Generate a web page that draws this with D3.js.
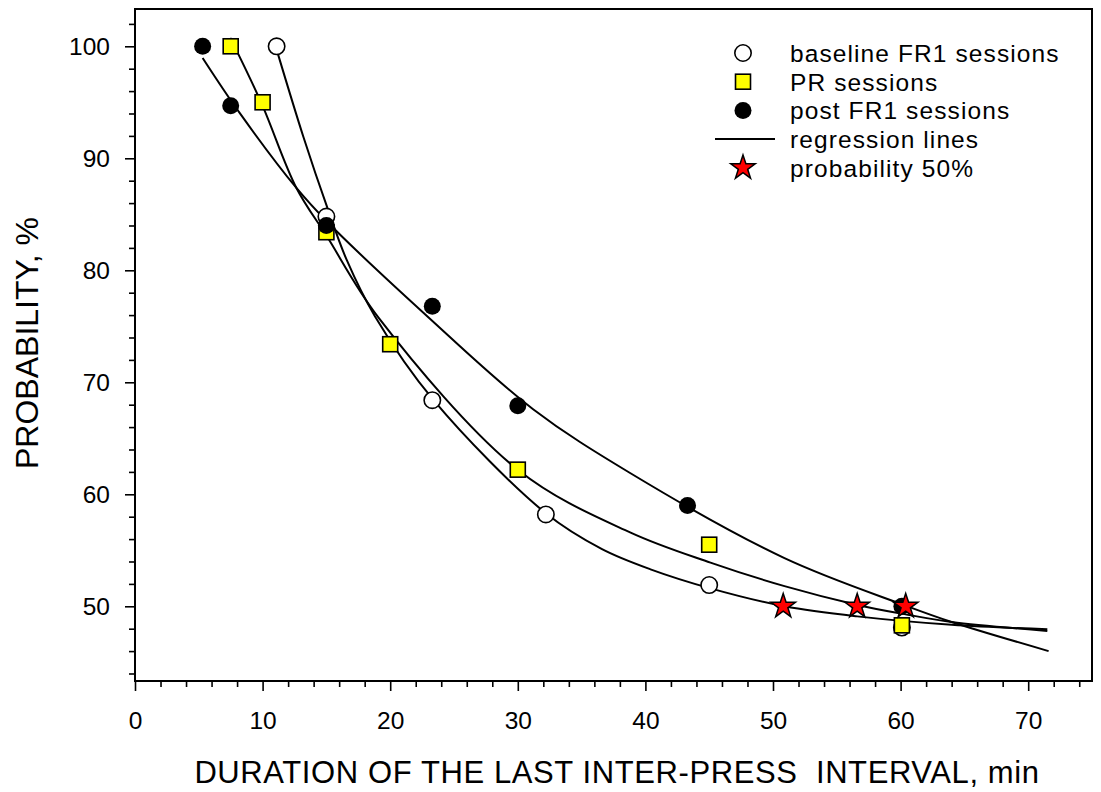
<!DOCTYPE html>
<html>
<head>
<meta charset="utf-8">
<script src="https://cdn.jsdelivr.net/npm/d3@7"></script>
<style>
  body { margin: 0; background: #fff; }
  text { font-family: "Liberation Sans", Arial, sans-serif; fill: #000; }
</style>
</head>
<body>
<div id="chart"></div>
<script>
// measured points
const baselineX = [11.1, 15, 23.3, 32.2, 45, 60.1];
const baselineY = [100, 84.8, 68.4, 58.2, 51.9, 48.1];
const prX = [7.5, 10, 15, 20, 30, 45, 60.1];
const prY = [100, 95, 83.4, 73.4, 62.2, 55.5, 48.3];
const postX = [5.3, 7.5, 15, 23.3, 30, 43.3, 60.1];
const postY = [100, 94.7, 84, 76.8, 67.9, 59.0, 50.0];
const starX = [50.8, 56.6, 60.4];
const starY = [50, 50, 50];

// regression lines
const baseFitX = [11.1, 13.2, 15.1, 16.6, 18.8, 23.4, 32.2, 36.6, 40.4, 45.1, 50.9, 56.6, 64.0, 71.5];
const baseFitY = [99.7, 91.9, 85.5, 80.9, 75.9, 68.4, 58.3, 55.1, 53.3, 51.6, 50.0, 49.1, 48.35, 47.95];
const prFitX = [7.47, 9.9, 12.65, 15.0, 19.1, 30.1, 38.8, 45.1, 50.9, 56.7, 60.3, 64.0, 71.5];
const prFitY = [100.75, 94.95, 87.35, 83.1, 75.75, 62.1, 56.6, 53.9, 51.8, 50.1, 49.3, 48.6, 47.8];
const postFitX = [5.3, 8.2, 12.65, 15.0, 22.9, 31.2, 38.8, 50.9, 60.3, 64.0, 71.6];
const postFitY = [98.96, 94.05, 87.35, 84.4, 75.9, 67.6, 61.9, 54.3, 50.1, 48.6, 46.0];

const xMajor = [0, 10, 20, 30, 40, 50, 60, 70];
const xMinor = [2, 4, 6, 8, 12, 14, 16, 18, 22, 24, 26, 28, 32, 34, 36, 38, 42, 44, 46, 48, 52, 54, 56, 58, 62, 64, 66, 68, 72, 74];
const yMajor = [50, 60, 70, 80, 90, 100];
const yMinor = [44, 46, 48, 52, 54, 56, 58, 62, 64, 66, 68, 72, 74, 76, 78, 82, 84, 86, 88, 92, 94, 96, 98, 102];

const legendLabels = ["baseline FR1 sessions", "PR sessions", "post FR1 sessions", "regression lines", "probability 50%"];

const width = 1101, height = 792;
const margin = { top: 9, right: 9, bottom: 111, left: 135 };
const w = width - margin.left - margin.right,
      h = height - margin.top - margin.bottom;

const svg = d3.select("#chart").append("svg")
  .attr("width", width)
  .attr("height", height);

const g = svg.append("g")
  .attr("transform", "translate(" + margin.left + "," + margin.top + ")");

const x = d3.scaleLinear().domain([0, 75]).range([0, w]);
const y = d3.scaleLinear().domain([43.33, 103.33]).range([h, 0]);

// axes: major + minor ticks
const xAxis = g.append("g")
  .attr("transform", "translate(0," + h + ")")
  .call(d3.axisBottom(x).tickValues(xMajor).tickSize(10).tickPadding(21).tickFormat(d3.format("d")));
const xAxisMinor = g.append("g")
  .attr("transform", "translate(0," + h + ")")
  .call(d3.axisBottom(x).tickValues(xMinor).tickSize(6).tickFormat(""));
const yAxis = g.append("g")
  .call(d3.axisLeft(y).tickValues(yMajor).tickSize(10).tickPadding(15).tickFormat(d3.format("d")));
const yAxisMinor = g.append("g")
  .call(d3.axisLeft(y).tickValues(yMinor).tickSize(6).tickFormat(""));

[xAxis, xAxisMinor, yAxis, yAxisMinor].forEach(function(a) {
  a.select(".domain").remove();
  a.selectAll("line").attr("stroke", "#000").attr("stroke-width", 1.6);
  a.selectAll("text")
    .style("font-size", "24.5px")
    .style("font-family", "'Liberation Sans', Arial, sans-serif")
    .attr("fill", "#000");
});

// frame
g.append("rect")
  .attr("width", w)
  .attr("height", h)
  .attr("fill", "none")
  .attr("stroke", "#000")
  .attr("stroke-width", 2);

// regression lines
const line = d3.line()
  .x(d => x(d[0]))
  .y(d => y(d[1]))
  .curve(d3.curveCatmullRom.alpha(0.5));

[[baseFitX, baseFitY], [prFitX, prFitY], [postFitX, postFitY]].forEach(function(s) {
  g.append("path")
    .datum(d3.zip(s[0], s[1]))
    .attr("d", line)
    .attr("fill", "none")
    .attr("stroke", "#000")
    .attr("stroke-width", 2);
});

// markers
g.selectAll(".base").data(d3.zip(baselineX, baselineY)).enter()
  .append("circle")
  .attr("class", "base")
  .attr("cx", d => x(d[0]))
  .attr("cy", d => y(d[1]))
  .attr("r", 8.2)
  .attr("fill", "#fff")
  .attr("stroke", "#000")
  .attr("stroke-width", 1.6);

g.selectAll(".pr").data(d3.zip(prX, prY)).enter()
  .append("rect")
  .attr("class", "pr")
  .attr("x", d => x(d[0]) - 7.5)
  .attr("y", d => y(d[1]) - 7.5)
  .attr("width", 15)
  .attr("height", 15)
  .attr("fill", "#ffff00")
  .attr("stroke", "#000")
  .attr("stroke-width", 1.6);

g.selectAll(".post").data(d3.zip(postX, postY)).enter()
  .append("circle")
  .attr("class", "post")
  .attr("cx", d => x(d[0]))
  .attr("cy", d => y(d[1]))
  .attr("r", 8.5)
  .attr("fill", "#000");

const star = d3.symbol().type(d3.symbolStar).size(185);
g.selectAll(".star").data(d3.zip(starX, starY)).enter()
  .append("path")
  .attr("class", "star")
  .attr("d", star)
  .attr("transform", d => "translate(" + x(d[0]) + "," + y(d[1]) + ")")
  .attr("fill", "#ff0000")
  .attr("stroke", "#000")
  .attr("stroke-width", 1.5);

// legend
const legend = svg.append("g").attr("id", "legend");
const rowY = i => 53 + i * 28.7;
const symX = 743;

legend.append("circle").attr("cx", symX).attr("cy", rowY(0)).attr("r", 8.2)
  .attr("fill", "#fff").attr("stroke", "#000").attr("stroke-width", 1.6);
legend.append("rect").attr("x", symX - 7.5).attr("y", rowY(1) - 7.5).attr("width", 15).attr("height", 15)
  .attr("fill", "#ffff00").attr("stroke", "#000").attr("stroke-width", 1.6);
legend.append("circle").attr("cx", symX).attr("cy", rowY(2)).attr("r", 8.5).attr("fill", "#000");
legend.append("line").attr("x1", 715).attr("x2", 775).attr("y1", rowY(3)).attr("y2", rowY(3))
  .attr("stroke", "#000").attr("stroke-width", 2);
legend.append("path").attr("d", star).attr("transform", "translate(" + symX + "," + rowY(4) + ")")
  .attr("fill", "#ff0000").attr("stroke", "#000").attr("stroke-width", 1.5);

legend.selectAll(".ltext").data(legendLabels).enter()
  .append("text")
  .attr("class", "ltext")
  .attr("x", 790)
  .attr("y", (d, i) => rowY(i) + 9)
  .style("font-size", "24.5px")
  .style("letter-spacing", "1.1px")
  .text(d => d);

// axis titles
svg.append("text")
  .attr("x", 617)
  .attr("y", 783)
  .attr("text-anchor", "middle")
  .style("font-size", "31px")
  .style("letter-spacing", "0.6px")
  .style("white-space", "pre")
  .text("DURATION OF THE LAST INTER-PRESS  INTERVAL, min");

svg.append("text")
  .attr("transform", "translate(38,343) rotate(-90)")
  .attr("text-anchor", "middle")
  .style("font-size", "32px")
  .text("PROBABILITY, %");
</script>
</body>
</html>
